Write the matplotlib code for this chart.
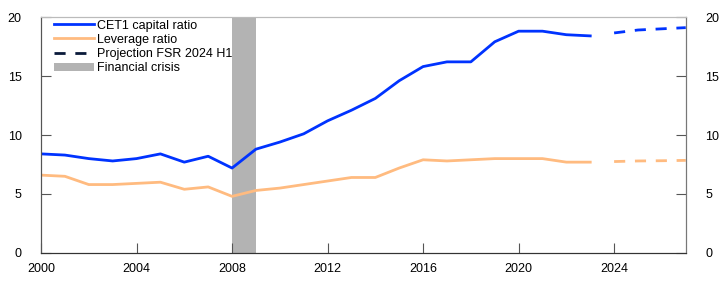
import numpy as np
import matplotlib.pyplot as plt

plt.rcParams['font.family'] = ['Liberation Sans', 'DejaVu Sans']
plt.rcParams['font.size'] = 9

years = list(range(2000, 2024))
cet1 = [8.4, 8.3, 8.0, 7.8, 8.0, 8.4, 7.7, 8.2, 7.2, 8.8, 9.4, 10.1,
        11.2, 12.1, 13.1, 14.6, 15.8, 16.2, 16.2, 17.9, 18.8, 18.8, 18.5, 18.4]
leverage = [6.6, 6.5, 5.8, 5.8, 5.9, 6.0, 5.4, 5.6, 4.8, 5.3, 5.5, 5.8,
            6.1, 6.4, 6.4, 7.2, 7.9, 7.8, 7.9, 8.0, 8.0, 8.0, 7.7, 7.7]

proj_years = [2024, 2025, 2026, 2027]
cet1_proj = [18.65, 18.9, 19.0, 19.1]
leverage_proj = [7.75, 7.8, 7.82, 7.85]

crisis = (2008, 2009)

blue = '#0033ff'
orange = '#ffbb80'

fig = plt.figure(figsize=(7.22, 2.89), dpi=100)
ax = fig.add_axes([0.0568, 0.1246, 0.893, 0.8165])

ax.axvspan(crisis[0], crisis[1], color='#b3b3b3', lw=0, label='Financial crisis')
ax.plot(years, cet1, color=blue, lw=2, label='CET1 capital ratio')
ax.plot(years, leverage, color=orange, lw=2, label='Leverage ratio')
ax.plot(proj_years, cet1_proj, color=blue, lw=2, ls=(0, (4, 3.5)))
ax.plot(proj_years, leverage_proj, color=orange, lw=2, ls=(0, (4, 3.5)))
ax.plot([], [], color='#0a1a3a', lw=2, ls=(0, (4, 3.5)), label='Projection FSR 2024 H1')

ax.set_xlim(2000, 2027)
ax.set_ylim(0, 20)
ax.set_xticks([2000, 2004, 2008, 2012, 2016, 2020, 2024])
ax.set_yticks([0, 5, 10, 15, 20])
ax.tick_params(direction='in', length=7, width=0.8, color='#555555')
ax.tick_params(axis='y', pad=14)
ax.tick_params(axis='x', pad=7)

ax2 = ax.twinx()
ax2.set_ylim(0, 20)
ax2.set_yticks([0, 5, 10, 15, 20])
ax2.tick_params(direction='in', length=7, width=0.8, color='#555555', pad=14)

for a in (ax, ax2):
    a.spines['top'].set_color('#bbbbbb')
    a.spines['left'].set_color('#555555')
    a.spines['right'].set_color('#777777')
    a.spines['bottom'].set_color('#333333')

handles, labels = ax.get_legend_handles_labels()
order = [1, 2, 3, 0]
ax.legend([handles[i] for i in order], [labels[i] for i in order],
          loc='upper left', frameon=False, handlelength=3.2, handletextpad=0.2,
          labelspacing=0.18, borderaxespad=0.0, borderpad=0.15,
          bbox_to_anchor=(0.018, 0.997))

fig.savefig('out.png', dpi=100)
